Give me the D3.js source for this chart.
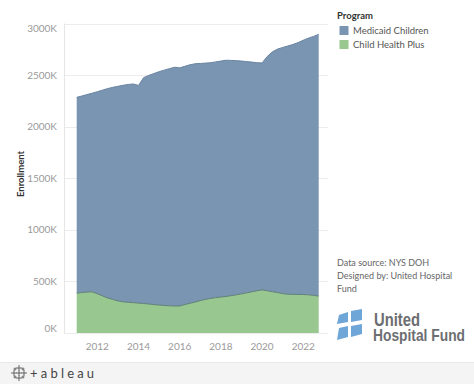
<!DOCTYPE html>
<html>
<head>
<meta charset="utf-8">
<script src="https://cdn.jsdelivr.net/npm/d3@7"></script>
<style>
  html, body { margin: 0; padding: 0; background: #fff; }
  svg { display: block; font-family: Lato, "Open Sans", sans-serif; }
</style>
</head>
<body>
<svg id="chart"></svg>
<script>
// Quarterly enrollment (thousands)
const months = [
  '2011-01','2011-04','2011-07','2011-10','2012-01','2012-04','2012-07','2012-10',
  '2013-01','2013-04','2013-07','2013-10','2014-01','2014-04','2014-07','2014-10',
  '2015-01','2015-04','2015-07','2015-10','2016-01','2016-04','2016-07','2016-10',
  '2017-01','2017-04','2017-07','2017-10','2018-01','2018-04','2018-07','2018-10',
  '2019-01','2019-04','2019-07','2019-10','2020-01','2020-04','2020-07','2020-10',
  '2021-01','2021-04','2021-07','2021-10','2022-01','2022-04','2022-07','2022-10'
];
const medicaidChildren = [
  1897, 1905, 1914, 1925, 1958, 1994, 2029, 2055,
  2080, 2099, 2111, 2120, 2110, 2189, 2216, 2239,
  2262, 2281, 2298, 2314, 2308, 2309, 2312, 2310,
  2299, 2290, 2285, 2285, 2287, 2290, 2280, 2270,
  2256, 2242, 2227, 2211, 2200, 2270, 2325, 2360,
  2386, 2406, 2422, 2441, 2465, 2488, 2510, 2537
];
const childHealthPlus = [
  387, 392, 397, 399, 381, 360, 340, 326,
  311, 302, 298, 294, 290, 286, 281, 276,
  271, 267, 264, 262, 262, 276, 288, 300,
  314, 326, 335, 343, 349, 354, 362, 370,
  380, 389, 399, 409, 418, 410, 400, 392,
  382, 376, 375, 374, 373, 370, 365, 358
];
const programs = ['Medicaid Children', 'Child Health Plus'];
const colors = ['#7a95b2', '#98c78f'];
const edgeColors = ['#6a84a2', '#5f7f78'];
const yTicks = [0, 500, 1000, 1500, 2000, 2500, 3000];
const xTickYears = [2012, 2014, 2016, 2018, 2020, 2022];
const sourceLines = ['Data source: NYS DOH', 'Designed by: United Hospital', 'Fund'];

const width = 474, height = 384;
const parse = d3.timeParse('%Y-%m');

const rows = months.map((m, i) => ({
  date: parse(m),
  'Child Health Plus': childHealthPlus[i],
  'Medicaid Children': medicaidChildren[i]
}));

// stack with CHP on the bottom
const series = d3.stack().keys(['Child Health Plus', 'Medicaid Children'])(rows);

const plot = { left: 64, right: 328, top: 23.5, bottom: 333 };

const x = d3.scaleTime()
  .domain([new Date(2011, 0, 1), new Date(2023, 0, 1)])
  .range([76.7, 323.9]);
const y = d3.scaleLinear()
  .domain([0, 3000])
  .range([plot.bottom, plot.top]);

const svg = d3.select('#chart')
  .attr('width', width)
  .attr('height', height);

// gridlines
svg.append('g')
  .selectAll('line')
  .data(yTicks)
  .join('line')
  .attr('x1', plot.left).attr('x2', plot.right)
  .attr('y1', d => Math.round(y(d)) + 0.5).attr('y2', d => Math.round(y(d)) + 0.5)
  .attr('stroke', '#ececec');

// axis line on the left
svg.append('line')
  .attr('x1', plot.left + 0.5).attr('x2', plot.left + 0.5)
  .attr('y1', plot.top).attr('y2', plot.bottom)
  .attr('stroke', '#e6e6e6');

// areas
const area = d3.area()
  .x(d => x(d.data.date))
  .y0(d => y(d[0]))
  .y1(d => y(d[1]));
const topLine = d3.line()
  .x(d => x(d.data.date))
  .y(d => y(d[1]));

const colorOf = k => colors[programs.indexOf(k)];
const edgeOf = k => edgeColors[programs.indexOf(k)];

svg.append('g')
  .selectAll('path')
  .data(series)
  .join('path')
  .attr('fill', d => colorOf(d.key))
  .attr('d', area);

svg.append('g')
  .selectAll('path')
  .data(series)
  .join('path')
  .attr('fill', 'none')
  .attr('stroke', d => edgeOf(d.key))
  .attr('stroke-width', 1)
  .attr('d', topLine);

// y tick labels (end labels are kept inside the pane, as Tableau does)
const lastTick = yTicks[yTicks.length - 1];
svg.append('g')
  .selectAll('text')
  .data(yTicks)
  .join('text')
  .attr('x', 57)
  .attr('y', d => y(d) + (d === 0 ? -5 : d === lastTick ? 5 : 0))
  .attr('dy', '0.35em')
  .attr('text-anchor', 'end')
  .attr('font-size', 10)
  .attr('fill', '#9a9a9a')
  .text(d => d + 'K');

// x tick labels
svg.append('g')
  .selectAll('text')
  .data(xTickYears)
  .join('text')
  .attr('x', d => x(new Date(d, 0, 1)))
  .attr('y', 350)
  .attr('text-anchor', 'middle')
  .attr('font-size', 10)
  .attr('fill', '#9a9a9a')
  .text(d => d);

// y axis title
svg.append('text')
  .attr('transform', 'translate(24,174) rotate(-90)')
  .attr('text-anchor', 'middle')
  .attr('font-size', 9.5)
  .attr('font-weight', 'bold')
  .attr('fill', '#333')
  .text('Enrollment');

// legend
const legend = svg.append('g').attr('transform', 'translate(337,0)');
legend.append('text')
  .attr('x', 0).attr('y', 19)
  .attr('font-size', 9.5)
  .attr('font-weight', 'bold')
  .attr('fill', '#333')
  .text('Program');
const item = legend.selectAll('g.item')
  .data(programs)
  .join('g')
  .attr('class', 'item')
  .attr('transform', (d, i) => `translate(0,${26 + i * 14})`);
item.append('rect')
  .attr('x', 2.5).attr('y', 0)
  .attr('width', 9).attr('height', 9)
  .attr('fill', (d, i) => colors[i]);
item.append('text')
  .attr('x', 16).attr('y', 8)
  .attr('font-size', 9.5)
  .attr('fill', '#555')
  .text(d => d);

// data source note
svg.append('g')
  .selectAll('text')
  .data(sourceLines)
  .join('text')
  .attr('x', 337)
  .attr('y', (d, i) => 266 + i * 13)
  .attr('font-size', 9)
  .attr('fill', '#666')
  .text(d => d);

// United Hospital Fund logo
const logo = svg.append('g').attr('transform', 'translate(337,309)');
const blue = '#6ea6d8';
logo.append('path').attr('fill', blue)
  .attr('d', 'M2,6 L11,3 L11,13 L0,15 Z M2,19 L11,17 L11,28 L0,31 Z');
logo.append('path').attr('fill', blue)
  .attr('d', 'M14,2 L25,0 L25,11 L14,13 Z M14,17 L25,15 L25,25 L14,28 Z');
logo.append('text')
  .attr('x', 37).attr('y', 17)
  .attr('font-family', '"Liberation Sans", Arial, sans-serif')
  .attr('font-weight', 'bold')
  .attr('font-size', 19)
  .attr('textLength', 46)
  .attr('lengthAdjust', 'spacingAndGlyphs')
  .attr('fill', '#6d6e71')
  .text('United');
logo.append('text')
  .attr('x', 36).attr('y', 32)
  .attr('font-family', '"Liberation Sans", Arial, sans-serif')
  .attr('font-weight', 'bold')
  .attr('font-size', 16.5)
  .attr('textLength', 92)
  .attr('lengthAdjust', 'spacingAndGlyphs')
  .attr('fill', '#6d6e71')
  .text('Hospital Fund');

// tableau footer bar
svg.append('rect')
  .attr('x', 0).attr('y', 362)
  .attr('width', width).attr('height', 22)
  .attr('fill', '#f4f4f4');
svg.append('line')
  .attr('x1', 0).attr('x2', width)
  .attr('y1', 362.5).attr('y2', 362.5)
  .attr('stroke', '#e8e8e8');
const tb = svg.append('g').attr('transform', 'translate(19,373)').attr('stroke', '#555');
[[0, -5, 3], [0, 5, 3], [-5, 0, 3], [5, 0, 3], [0, 0, 2.5], [-4, -4, 1.5], [4, -4, 1.5], [-4, 4, 1.5], [4, 4, 1.5]]
  .forEach(([cx, cy, r]) => {
    tb.append('line').attr('x1', cx - r).attr('x2', cx + r).attr('y1', cy).attr('y2', cy).attr('stroke-width', 0.9);
    tb.append('line').attr('x1', cx).attr('x2', cx).attr('y1', cy - r).attr('y2', cy + r).attr('stroke-width', 0.9);
  });
svg.append('text')
  .attr('x', 30).attr('y', 377.5)
  .attr('font-size', 13)
  .attr('letter-spacing', 3.2)
  .attr('fill', '#444')
  .text('+ableau');
</script>
</body>
</html>
